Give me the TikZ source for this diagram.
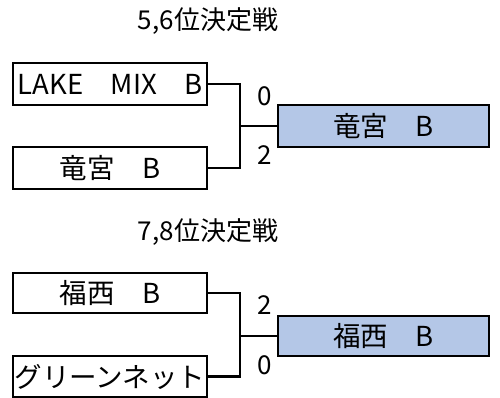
\documentclass[tikz,border=0pt]{standalone}
\usepackage{fontspec}
\setmainfont{Noto Sans CJK JP}
\definecolor{winfill}{HTML}{B4C7E7}
\tikzset{
  team/.style={draw=black, line width=2.8pt, minimum width=194pt, minimum height=42pt, inner sep=0pt, font=\fontsize{27.5}{27.5}\selectfont},
  winner/.style={team, fill=winfill, minimum width=211pt},
  score/.style={font=\fontsize{26}{26}\selectfont, inner sep=0pt},
  title/.style={font=\fontsize{26}{26}\selectfont, inner sep=0pt},
  conn/.style={line width=2.8pt}
}
\begin{document}
\begin{tikzpicture}[x=1pt,y=-1pt]
\useasboundingbox (0,0) rectangle (500,398);
% 5,6
\node[title] (t1) at (208,21) {5,6位決定戦};
\node[team] (b1) at (110,84) {LAKE　MIX　B};
\node[team] (b2) at (110,168) {竜宮　B};
\node[winner] (b3) at (383.5,126) {竜宮　B};
\coordinate (j1) at (240,126);
\draw[conn] (b1.east) -| (j1) |- (b2.east);
\draw[conn] (j1) -- (b3.west);
\node[score] (s1) at (265,96) {0};
\node[score] (s2) at (265,155) {2};
% 7,8
\node[title] (t2) at (208,232) {7,8位決定戦};
\node[team, minimum height=40pt] (b4) at (110,293) {福西　B};
\node[team, minimum height=41pt] (b5) at (110,376.5) {グリーンネット};
\node[winner, minimum height=40pt] (b6) at (383.5,336) {福西　B};
\coordinate (j2) at (240,336);
\draw[conn] (b4.east) -| (j2) |- (b5.east);
\draw[conn] (j2) -- (b6.west);
\node[score] (s3) at (265,305) {2};
\node[score] (s4) at (265,365) {0};
\end{tikzpicture}
\end{document}
